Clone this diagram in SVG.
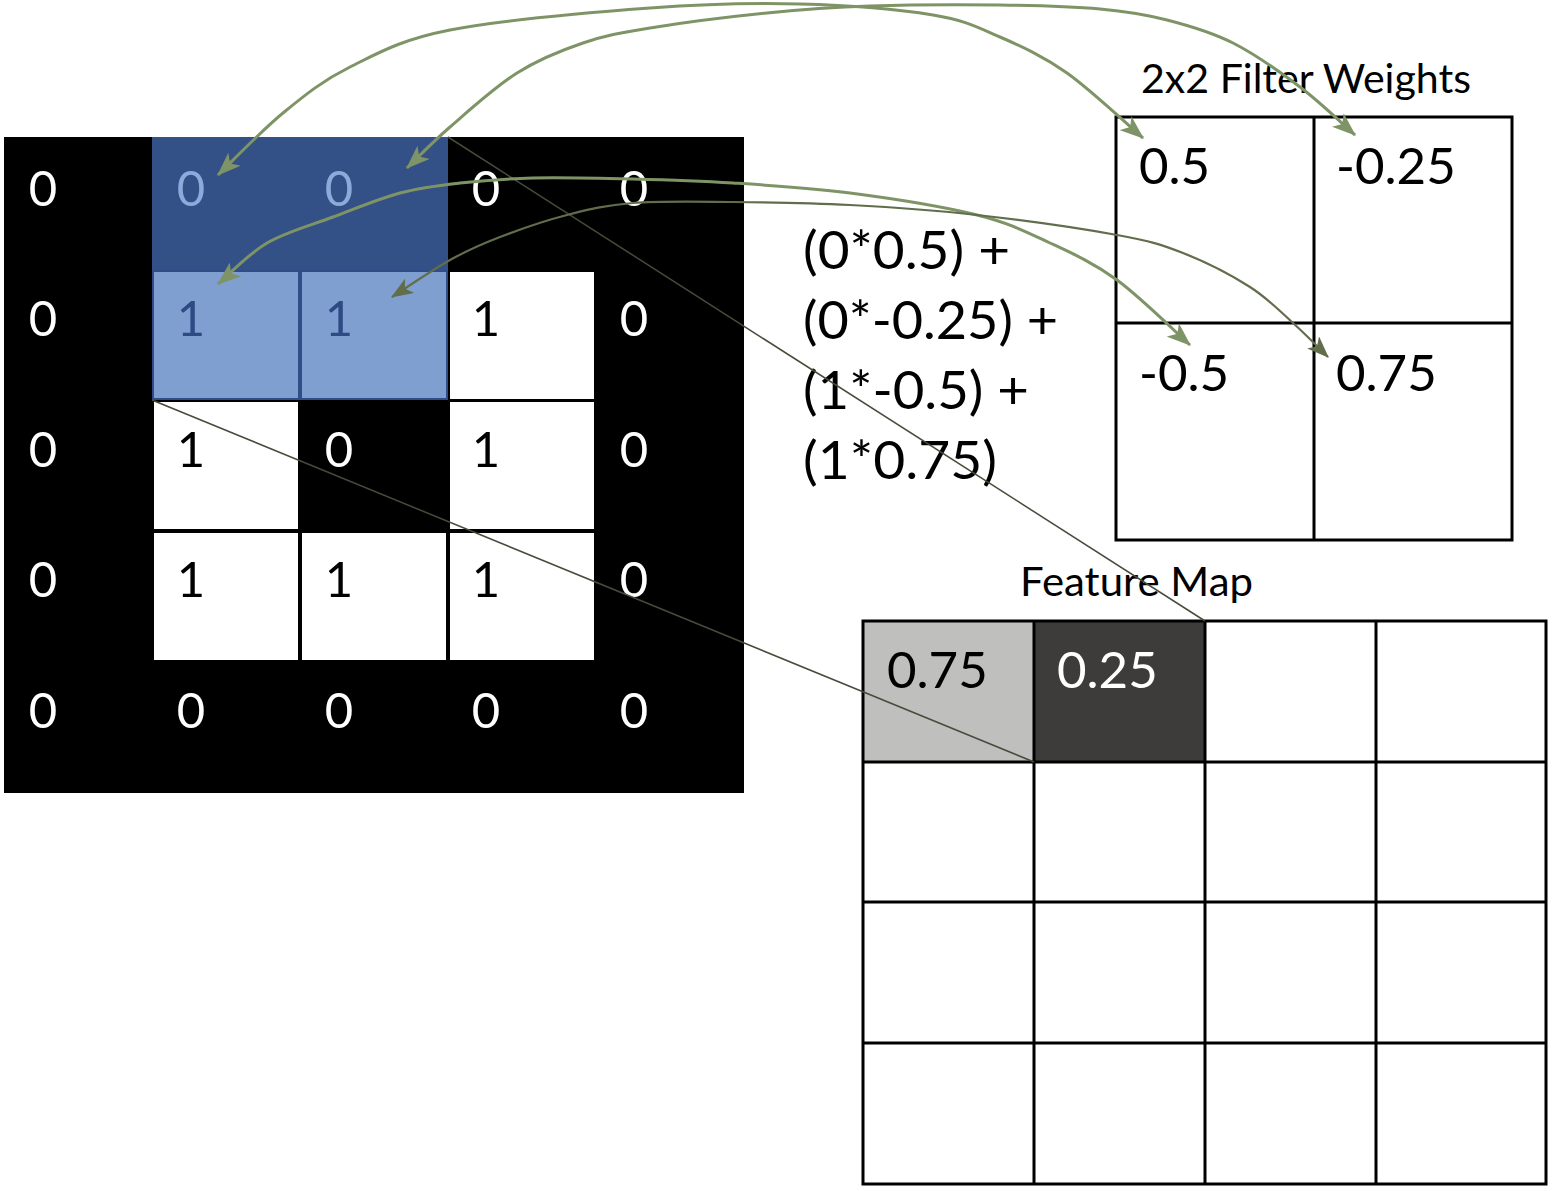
<svg xmlns="http://www.w3.org/2000/svg" width="1553" height="1191" viewBox="0 0 1553 1191">
  <style>
    .num { font-family: Lato, "Liberation Sans", sans-serif; }
    .in { font-size: 49px; text-anchor: middle; }
    .w { fill: #ffffff; }
    .k { fill: #000000; }
    .lb { fill: #8eaadb; }
    .db { fill: #2e4a84; }
    .big { font-size: 51px; fill: #000; }
    .lbl { font-size: 40px; fill: #000; }
    .fml { font-size: 53px; fill: #000; }
    .box { fill: none; stroke: #000; stroke-width: 3; }
    .arc { fill: none; stroke: #7f9466; stroke-width: 3; }
    .arc2 { fill: none; stroke: #616d4b; stroke-width: 2.2; }
    .ray { fill: none; stroke: #454c3a; stroke-width: 1.5; }
  </style>
  <defs>
    <marker id="ah" viewBox="0 0 10 10" refX="9.5" refY="5" markerUnits="userSpaceOnUse" markerWidth="24" markerHeight="18" preserveAspectRatio="none" orient="auto-start-reverse">
      <path d="M0,0 L10,5 L0,10 L2.5,5 z" fill="#7f9466"/>
    </marker>
    <marker id="ah2" viewBox="0 0 10 10" refX="9.5" refY="5" markerUnits="userSpaceOnUse" markerWidth="22" markerHeight="17" preserveAspectRatio="none" orient="auto-start-reverse">
      <path d="M0,0 L10,5 L0,10 L2.5,5 z" fill="#616d4b"/>
    </marker>
  </defs>

  <rect width="1553" height="1191" fill="#ffffff"/>

  <!-- Input image grid -->
  <g id="input-grid">
    <rect x="4" y="137" width="740" height="656" fill="#000000"/>
    <rect x="152" y="137" width="296" height="133" fill="#335087"/>
    <rect x="153" y="271" width="146" height="128" fill="#809fd1" stroke="#2f4d88" stroke-width="2"/>
    <rect x="301" y="271" width="146" height="128" fill="#809fd1" stroke="#2f4d88" stroke-width="2"/>
    <rect x="450" y="272" width="144" height="127" fill="#ffffff"/>
    <rect x="154" y="402" width="144" height="127" fill="#ffffff"/>
    <rect x="450" y="402" width="144" height="127" fill="#ffffff"/>
    <rect x="154" y="533" width="144" height="127" fill="#ffffff"/>
    <rect x="302" y="533" width="144" height="127" fill="#ffffff"/>
    <rect x="450" y="533" width="144" height="127" fill="#ffffff"/>

    <g class="num in">
      <text x="43" y="206" class="w">0</text>
      <text x="191" y="206" class="lb">0</text>
      <text x="339" y="206" class="lb">0</text>
      <text x="486" y="206" class="w">0</text>
      <text x="634" y="206" class="w">0</text>

      <text x="43" y="336" class="w">0</text>
      <text x="191" y="336" class="db">1</text>
      <text x="339" y="336" class="db">1</text>
      <text x="486" y="336" class="k">1</text>
      <text x="634" y="336" class="w">0</text>

      <text x="43" y="467" class="w">0</text>
      <text x="191" y="467" class="k">1</text>
      <text x="339" y="467" class="w">0</text>
      <text x="486" y="467" class="k">1</text>
      <text x="634" y="467" class="w">0</text>

      <text x="43" y="597" class="w">0</text>
      <text x="191" y="597" class="k">1</text>
      <text x="339" y="597" class="k">1</text>
      <text x="486" y="597" class="k">1</text>
      <text x="634" y="597" class="w">0</text>

      <text x="43" y="728" class="w">0</text>
      <text x="191" y="728" class="w">0</text>
      <text x="339" y="728" class="w">0</text>
      <text x="486" y="728" class="w">0</text>
      <text x="634" y="728" class="w">0</text>
    </g>
  </g>

  <!-- Formula -->
  <g id="formula" class="num fml">
    <text x="803" y="269" textLength="207" lengthAdjust="spacingAndGlyphs">(0*0.5) +</text>
    <text x="803" y="339" textLength="255" lengthAdjust="spacingAndGlyphs">(0*-0.25) +</text>
    <text x="803" y="409" textLength="226" lengthAdjust="spacingAndGlyphs">(1*-0.5) +</text>
    <text x="803" y="479" textLength="194" lengthAdjust="spacingAndGlyphs">(1*0.75)</text>
  </g>

  <!-- Filter weights -->
  <g id="filter-weights">
    <text x="1141" y="93" class="num lbl" textLength="330" lengthAdjust="spacingAndGlyphs">2x2 Filter Weights</text>
    <rect x="1116" y="117" width="396" height="423" class="box"/>
    <line x1="1314" y1="117" x2="1314" y2="540" stroke="#000" stroke-width="3"/>
    <line x1="1116" y1="323" x2="1512" y2="323" stroke="#000" stroke-width="3"/>
    <g class="num big">
      <text x="1139" y="184">0.5</text>
      <text x="1336" y="184">-0.25</text>
      <text x="1139" y="391">-0.5</text>
      <text x="1336" y="391">0.75</text>
    </g>
  </g>

  <!-- Feature map -->
  <g id="feature-map">
    <text x="1020" y="596" class="num lbl" textLength="233" lengthAdjust="spacingAndGlyphs">Feature Map</text>
    <rect x="863" y="621" width="171" height="141" fill="#bfbfbd"/>
    <rect x="1034" y="621" width="171" height="141" fill="#3e3c3a"/>
    <g stroke="#000" stroke-width="3" fill="none">
      <rect x="863" y="621" width="683" height="563"/>
      <line x1="1034" y1="621" x2="1034" y2="1184"/>
      <line x1="1205" y1="621" x2="1205" y2="1184"/>
      <line x1="1376" y1="621" x2="1376" y2="1184"/>
      <line x1="863" y1="762" x2="1546" y2="762"/>
      <line x1="863" y1="902" x2="1546" y2="902"/>
      <line x1="863" y1="1043" x2="1546" y2="1043"/>
    </g>
    <text x="887" y="688" class="num big">0.75</text>
    <text x="1057" y="688" class="num big" style="fill:#ffffff">0.25</text>
  </g>

  <!-- Connectors -->
  <g id="connectors">
    <line x1="448" y1="137" x2="1205" y2="621" class="ray"/>
    <line x1="152" y1="400" x2="1034" y2="762" class="ray"/>

    <path class="arc" marker-start="url(#ah)" marker-end="url(#ah)" d="M218,175 C228.8,164.7 261,131 283,113 C305,95 322.2,80.8 350,67 C377.8,53.2 400,39.8 450,30 C500,20.2 591.7,12.3 650,8 C708.3,3.7 752.8,2.8 800,4 C847.2,5.2 899.7,9.5 933,15 C966.3,20.5 977.7,27.3 1000,37 C1022.3,46.7 1043.2,56.2 1067,73 C1090.8,89.8 1130.3,127.2 1143,138"/>

    <path class="arc" marker-start="url(#ah)" marker-end="url(#ah)" d="M407,168 C414.2,161.2 431.7,142.8 450,127 C468.3,111.2 494.8,87 517,73 C539.2,59 560.8,50.5 583,43 C605.2,35.5 619.3,33 650,28 C680.7,23 730.3,16.7 767,13 C803.7,9.3 831.2,7.3 870,6 C908.8,4.7 961.7,4.5 1000,5 C1038.3,5.5 1072.2,6.5 1100,9 C1127.8,11.5 1144.8,14.3 1167,20 C1189.2,25.7 1210.8,31.8 1233,43 C1255.2,54.2 1279.7,71.7 1300,87 C1320.3,102.3 1345.8,127 1355,135"/>

    <path class="arc" marker-start="url(#ah)" marker-end="url(#ah)" d="M218,284 C226.2,277.2 247.8,254.2 267,243 C286.2,231.8 310.8,225.3 333,217 C355.2,208.7 378.8,198.7 400,193 C421.2,187.3 437.8,185.5 460,183 C482.2,180.5 504.2,178.7 533,178 C561.8,177.3 599.7,178.2 633,179 C666.3,179.8 696.8,180.7 733,183 C769.2,185.3 809.3,187.7 850,193 C890.7,198.3 943.7,206.7 977,215 C1010.3,223.3 1026.7,232.2 1050,243 C1073.3,253.8 1093.7,263 1117,280 C1140.3,297 1177.8,334.2 1190,345"/>

    <path class="arc2" marker-start="url(#ah2)" marker-end="url(#ah2)" d="M392,297 C401.7,290.8 432,270 450,260 C468,250 480.5,244.5 500,237 C519.5,229.5 544.8,220.7 567,215 C589.2,209.3 605.3,205.2 633,203 C660.7,200.8 696.8,201.7 733,202 C769.2,202.3 809.3,202.8 850,205 C890.7,207.2 932.5,210 977,215 C1021.5,220 1082.7,228.7 1117,235 C1151.3,241.3 1160.8,244.3 1183,253 C1205.2,261.7 1231.7,275.3 1250,287 C1268.3,298.7 1280,311.3 1293,323 C1306,334.7 1322.2,351.3 1328,357"/>
  </g>
</svg>
